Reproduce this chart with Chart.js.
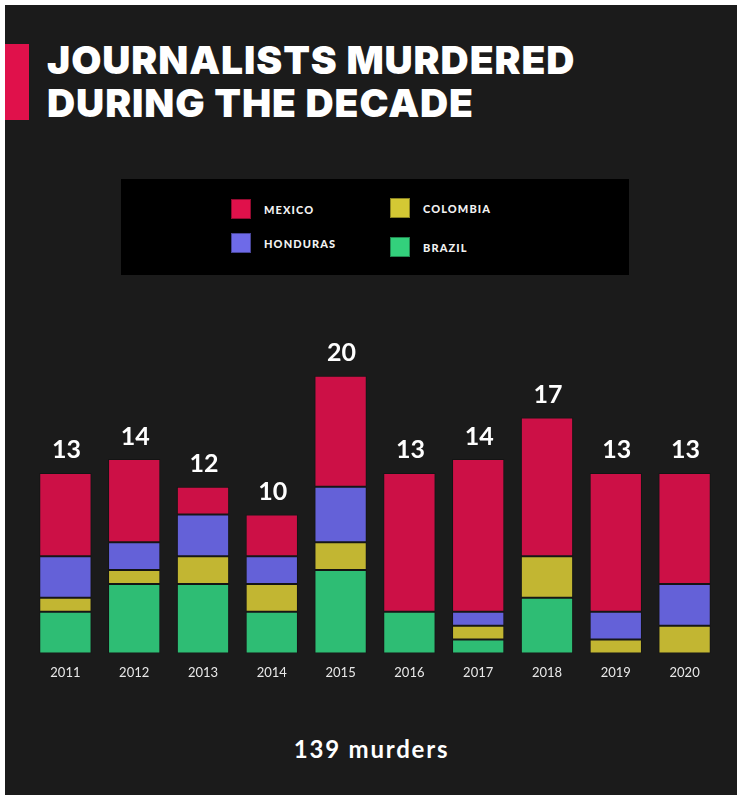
<!DOCTYPE html>
<html lang="en">
<head>
  <meta charset="UTF-8">
  <title>Journalists murdered during the decade</title>
  <script src="https://cdn.jsdelivr.net/npm/chart.js"></script>
  <style>
    html, body { margin: 0; padding: 0; background: #fff; }
    body { width: 737px; height: 799px; position: relative; overflow: hidden; font-family: Lato, "Open Sans", sans-serif; }
    #panel { position: absolute; left: 5px; top: 5px; width: 732px; height: 790px; background: #1b1b1b; }
    #accent { position: absolute; left: 5px; top: 44px; width: 24px; height: 76px; background: #e0114b; }
    #title {
      position: absolute; left: 47px; top: 38px; margin: 0;
      font-family: Inter, Lato, sans-serif; font-weight: 900; font-size: 39px;
      line-height: 43px; color: #fff; letter-spacing: 0.9px;
    }
    #legend { position: absolute; left: 121px; top: 179px; width: 508px; height: 96px; background: #000; }
    .item { position: absolute; font-weight: 700; font-size: 11px; letter-spacing: 1.1px; color: #f2f2f2; }
    .item span { position: absolute; width: 20px; height: 20px; box-sizing: border-box; border: 1px solid rgba(0,0,0,0.35); }
    .item b { position: absolute; white-space: nowrap; }
    #chartWrap { position: absolute; left: 0; top: 339px; width: 737px; height: 360px; }
    #total { position: absolute; left: 3px; width: 737px; top: 734px; text-align: center; color: #fff; font-weight: 700; font-size: 24px; letter-spacing: 1.8px; }
  </style>
</head>
<body>
<div id="panel"></div>
<div id="accent"></div>
<h1 id="title">JOURNALISTS MURDERED<br>DURING THE DECADE</h1>

<!-- Legend -->
<div id="legend"></div>

<!-- Chart -->
<div id="chartWrap"><canvas id="murdersChart"></canvas></div>

<div id="total">139 murders</div>

<script>
  // Data
  const years = ['2011', '2012', '2013', '2014', '2015', '2016', '2017', '2018', '2019', '2020'];
  const mexico   = [6, 6, 2, 3, 8, 10, 11, 10, 10, 8];
  const honduras = [3, 2, 3, 2, 4, 0, 1, 0, 2, 3];
  const colombia = [1, 1, 2, 2, 2, 0, 1, 3, 1, 2];
  const brazil   = [3, 5, 5, 3, 6, 3, 1, 4, 0, 0];

  const countries = ['MEXICO', 'HONDURAS', 'COLOMBIA', 'BRAZIL'];
  const barColors = ['#cc1046', '#6461d8', '#c2b632', '#2ebd74'];
  const swatchColors = ['#e0114b', '#6e6ae8', '#d4c834', '#33d17c'];

  // Build legend boxes (two columns)
  const legendPos = [
    { sx: 110, sy: 20, tx: 143, ty: 24 },
    { sx: 110, sy: 54, tx: 143, ty: 58 },
    { sx: 269, sy: 19, tx: 302, ty: 23 },
    { sx: 269, sy: 58, tx: 302, ty: 62 }
  ];
  const legend = document.getElementById('legend');
  countries.forEach((name, i) => {
    const p = legendPos[i];
    const el = document.createElement('div');
    el.className = 'item';
    el.innerHTML = `<span style="left:${p.sx}px;top:${p.sy}px;background:${swatchColors[i]}"></span>` +
                   `<b style="left:${p.tx}px;top:${p.ty}px">${name}</b>`;
    legend.appendChild(el);
  });

  // Totals above each bar
  const totalsPlugin = {
    id: 'totals',
    afterDatasetsDraw(chart) {
      const ctx = chart.ctx;
      const last = chart.getDatasetMeta(chart.data.datasets.length - 1);
      ctx.save();
      ctx.fillStyle = '#ffffff';
      ctx.font = '700 25px Lato, sans-serif';
      ctx.textAlign = 'center';
      ctx.textBaseline = 'bottom';
      years.forEach((y, i) => {
        const sum = chart.data.datasets.reduce((s, ds) => s + ds.data[i], 0);
        const x = last.data[i].x;
        const top = chart.scales.y.getPixelForValue(sum);
        ctx.fillText(String(sum), x + 1, top - 10);
      });
      ctx.restore();
    }
  };

  const mk = (label, data, color) => ({
    label, data,
    backgroundColor: color,
    borderColor: 'rgba(0,0,0,0.25)',
    borderWidth: 1,
    borderSkipped: false,
    barPercentage: 0.76,
    categoryPercentage: 1
  });

  new Chart(document.getElementById('murdersChart'), {
    type: 'bar',
    data: {
      labels: years,
      datasets: [
        mk('Brazil', brazil, barColors[3]),
        mk('Colombia', colombia, barColors[2]),
        mk('Honduras', honduras, barColors[1]),
        mk('Mexico', mexico, barColors[0])
      ]
    },
    options: {
      responsive: true,
      maintainAspectRatio: false,
      animation: false,
      layout: { padding: { left: 31, right: 18, top: 9, bottom: 6 } },
      plugins: { legend: { display: false }, tooltip: { enabled: false } },
      scales: {
        x: {
          stacked: true,
          border: { display: false },
          grid: { display: false, drawTicks: false },
          ticks: { color: '#e8e8e8', font: { family: 'Lato', size: 13 }, padding: 12 }
        },
        y: {
          stacked: true,
          display: false,
          min: 0,
          max: 22
        }
      }
    },
    plugins: [totalsPlugin]
  });
</script>
</body>
</html>
